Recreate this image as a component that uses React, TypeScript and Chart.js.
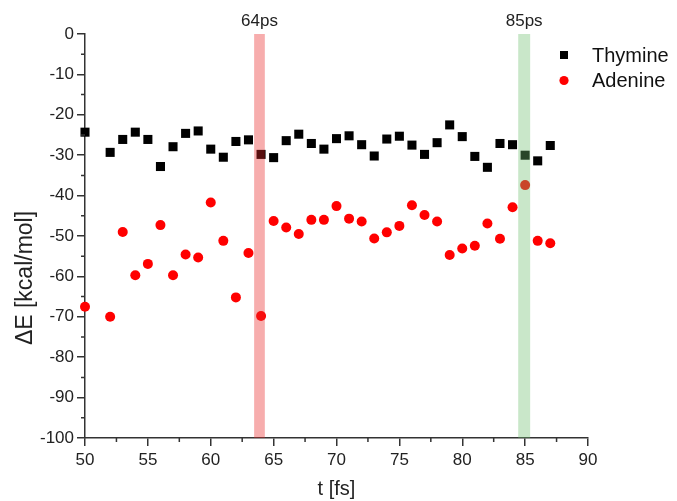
import React, { useEffect, useRef } from "react";
import { Chart, registerables } from "chart.js";

Chart.register(...registerables);

const times = [50, 52, 53, 54, 55, 56, 57, 58, 59, 60, 61, 62, 63, 64, 65, 66, 67, 68, 69, 70, 71, 72, 73, 74, 75, 76, 77, 78, 79, 80, 81, 82, 83, 84, 85, 86, 87];
const thymine = [-24.3, -29.3, -26.1, -24.3, -26.1, -32.8, -27.9, -24.6, -24.0, -28.5, -30.5, -26.6, -26.2, -29.8, -30.6, -26.4, -24.8, -27.1, -28.5, -25.9, -25.2, -27.4, -30.2, -26.0, -25.3, -27.5, -29.8, -26.9, -22.5, -25.4, -30.3, -33.0, -27.1, -27.4, -30.0, -31.4, -27.6];
const adenine = [-67.5, -70.0, -49.0, -59.7, -56.9, -47.3, -59.7, -54.6, -55.3, -41.7, -51.2, -65.2, -54.2, -69.8, -46.3, -47.9, -49.5, -46.0, -46.0, -42.6, -45.7, -46.4, -50.6, -49.1, -47.5, -42.4, -44.8, -46.4, -54.7, -53.1, -52.4, -46.9, -50.7, -42.9, -37.4, -51.2, -51.8];

const bandLabels = ["64ps", "85ps"];
const bandStart = [63.45, 84.45];
const bandEnd = [64.3, 85.4];
const bandColors = ["rgba(235,40,40,0.38)", "rgba(108,189,108,0.37)"];

const xMinorTicks = [52.5, 57.5, 62.5, 67.5, 72.5, 77.5, 82.5, 87.5];
const yMinorTicks = [-5, -15, -25, -35, -45, -55, -65, -75, -85, -95];

const FONT = "'Liberation Sans', Arial, sans-serif";
const TEXT = "#222";

const overlay = {
  id: "overlay",
  beforeDraw(chart: any) {
    const ctx = chart.ctx;
    ctx.save();
    ctx.fillStyle = "#fff";
    ctx.fillRect(0, 0, chart.width, chart.height);
    ctx.restore();
  },
  afterDatasetsDraw(chart: any) {
    const ctx = chart.ctx;
    const xs = chart.scales.x;
    const ys = chart.scales.y;
    const area = chart.chartArea;
    ctx.save();
    // bands
    for (let i = 0; i < bandStart.length; i++) {
      const a = xs.getPixelForValue(bandStart[i]);
      const b = xs.getPixelForValue(bandEnd[i]);
      ctx.fillStyle = bandColors[i];
      ctx.fillRect(a, area.top, b - a, area.bottom - area.top);
      ctx.fillStyle = TEXT;
      ctx.font = `17px ${FONT}`;
      ctx.textAlign = "center";
      ctx.textBaseline = "middle";
      ctx.fillText(bandLabels[i], (a + b) / 2, 21);
    }
    // minor ticks
    ctx.strokeStyle = "#333";
    ctx.lineWidth = 1.5;
    ctx.beginPath();
    for (const v of xMinorTicks) {
      const p = xs.getPixelForValue(v);
      ctx.moveTo(p, area.bottom);
      ctx.lineTo(p, area.bottom + 4);
    }
    for (const v of yMinorTicks) {
      const p = ys.getPixelForValue(v);
      ctx.moveTo(area.left, p);
      ctx.lineTo(area.left - 4, p);
    }
    ctx.stroke();
    // axis titles
    ctx.fillStyle = TEXT;
    ctx.font = `20px ${FONT}`;
    ctx.textAlign = "center";
    ctx.textBaseline = "middle";
    ctx.fillText("t [fs]", (area.left + area.right) / 2, 489);
    ctx.save();
    ctx.translate(26, 278);
    ctx.rotate(-Math.PI / 2);
    ctx.font = `23px ${FONT}`;
    ctx.fillText("ΔE [kcal/mol]", 0, 0);
    ctx.restore();
    // legend
    ctx.fillStyle = "#000";
    ctx.fillRect(560, 51, 8, 8);
    ctx.fillStyle = "#ff0000";
    ctx.beginPath();
    ctx.arc(564, 80.5, 4.6, 0, Math.PI * 2);
    ctx.fill();
    ctx.fillStyle = "#111";
    ctx.font = `20px ${FONT}`;
    ctx.textAlign = "left";
    ctx.fillText("Thymine", 592, 56);
    ctx.fillText("Adenine", 592, 81);
    ctx.restore();
  },
};

export default function App() {
  const ref = useRef<HTMLCanvasElement>(null);
  useEffect(() => {
    if (!ref.current) return;
    const chart = new Chart(ref.current, {
      type: "scatter",
      data: {
        datasets: [
          {
            label: "Thymine",
            data: times.map((t, i) => ({ x: t, y: thymine[i] })),
            pointStyle: "rect",
            pointRadius: 6.4,
            backgroundColor: "#000",
            borderWidth: 0,
            clip: false as any,
          },
          {
            label: "Adenine",
            data: times.map((t, i) => ({ x: t, y: adenine[i] })),
            pointStyle: "circle",
            pointRadius: 5,
            backgroundColor: "#ff0000",
            borderWidth: 0,
            clip: false as any,
          },
        ],
      },
      options: {
        responsive: false,
        animation: false,
        devicePixelRatio: 1,
        layout: { padding: { left: 0, right: 89, top: 34, bottom: 0 } },
        plugins: { legend: { display: false }, tooltip: { enabled: false } },
        scales: {
          x: {
            type: "linear",
            min: 50,
            max: 90,
            afterFit: (s: any) => { s.height = 63; },
            ticks: { stepSize: 5, font: { size: 17, family: FONT }, color: TEXT, padding: 4, maxRotation: 0 },
            grid: { drawOnChartArea: false, drawTicks: true, tickLength: 8, color: "#333", lineWidth: 1.5 },
            border: { display: true, color: "#333", width: 1.5 },
          },
          y: {
            type: "linear",
            min: -100,
            max: 0,
            afterFit: (s: any) => { s.width = 85; },
            ticks: { stepSize: 10, font: { size: 17, family: FONT }, color: TEXT, padding: 3 },
            grid: { drawOnChartArea: false, drawTicks: true, tickLength: 8, color: "#333", lineWidth: 1.5 },
            border: { display: true, color: "#333", width: 1.5 },
          },
        },
      },
      plugins: [overlay],
    });
    return () => chart.destroy();
  }, []);
  return (
    <div style={{ position: "absolute", left: 0, top: 0, width: 677, height: 501 }}>
      <canvas ref={ref} width={677} height={501} style={{ display: "block" }} />
    </div>
  );
}
